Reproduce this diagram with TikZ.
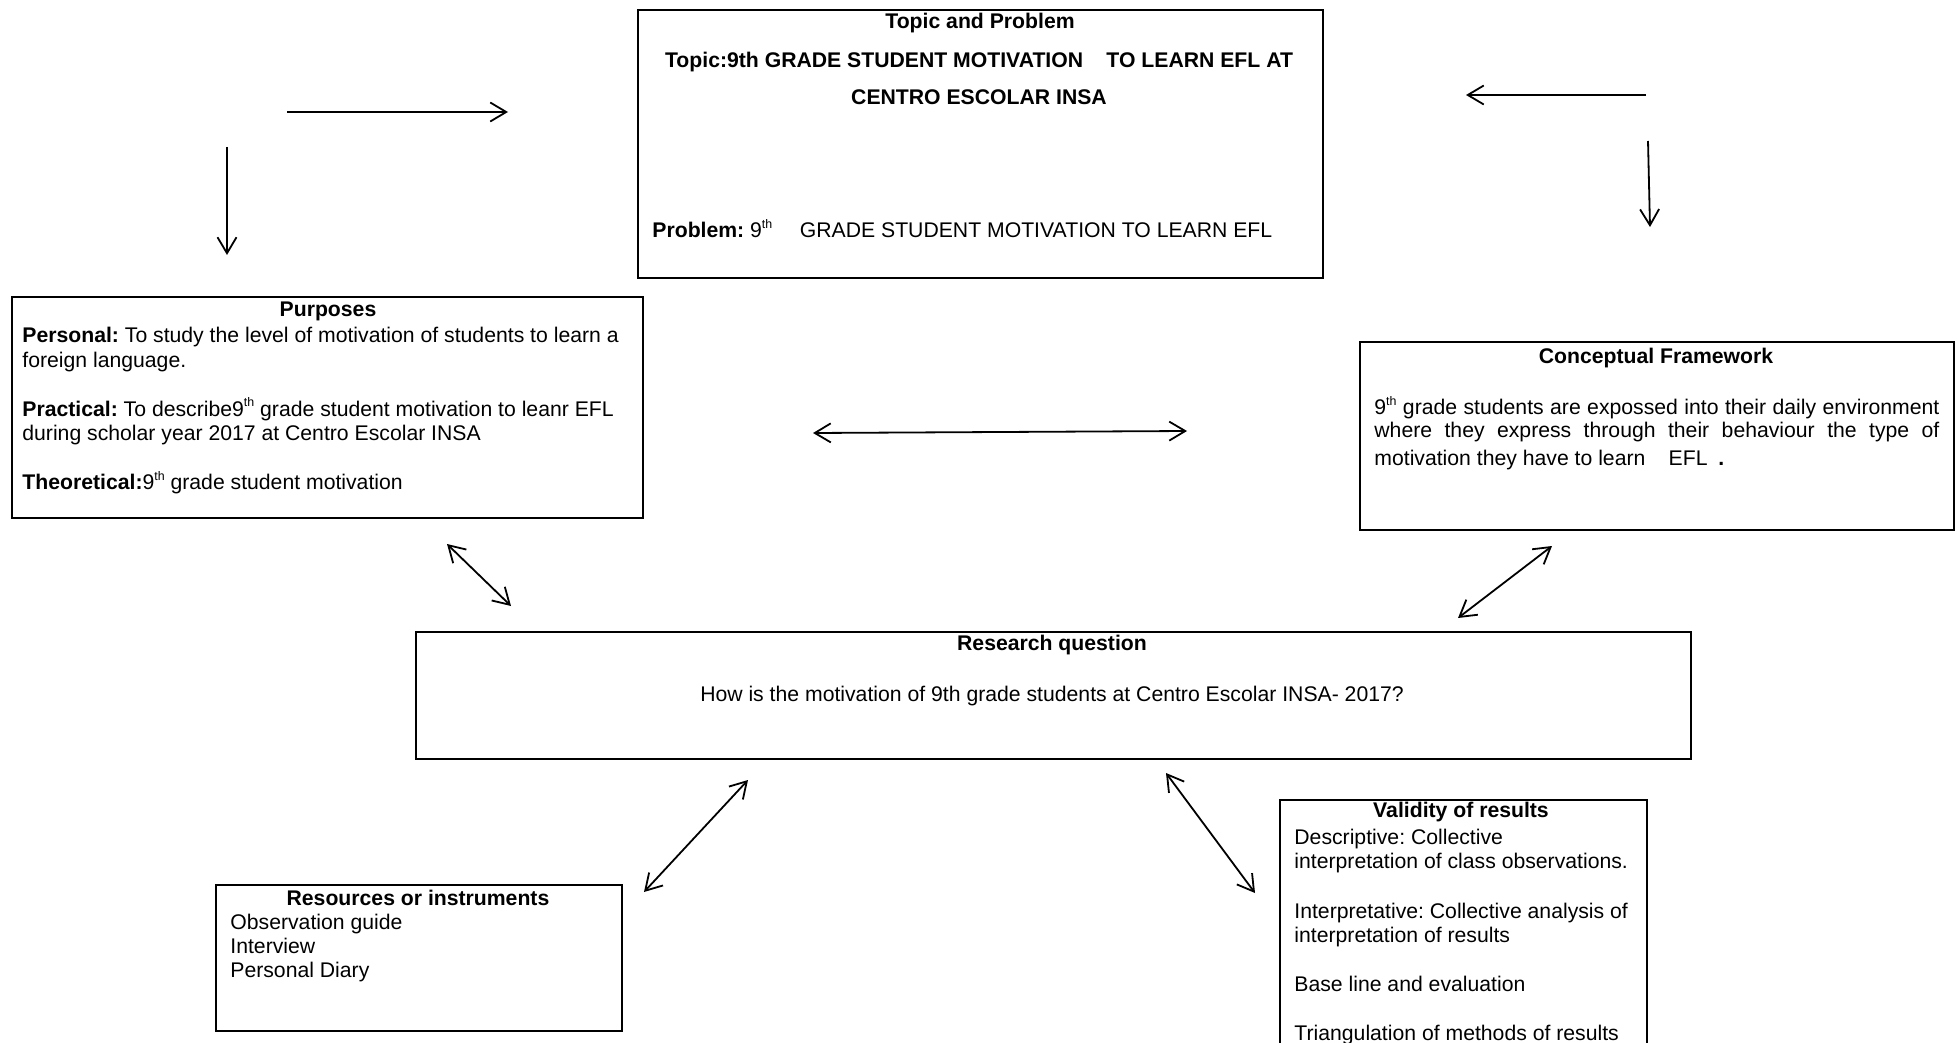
\documentclass[tikz,border=0pt]{standalone}
\usepackage{fontspec}
\setmainfont{Liberation Sans}
\usetikzlibrary{arrows.meta}
\newcommand{\supth}{\raisebox{0.85ex}{\fontsize{6.2}{6.2}\selectfont th}}
\frenchspacing
\begin{document}
\begin{tikzpicture}[x=0.5pt,y=-0.5pt,
  box/.style={draw,line width=1pt,inner sep=0pt,anchor=north west},
  txt/.style={inner sep=0pt,font=\fontsize{10.6}{12.25}\selectfont\frenchspacing},
  ttl/.style={inner sep=0pt,font=\fontsize{10.6}{12.25}\selectfont\bfseries\frenchspacing},
  tip/.tip={Straight Barb[length=8pt,width=9.5pt,line width=0.9pt]},
  arr/.style={line width=0.9pt,-tip},
  darr/.style={line width=0.9pt,tip-tip}]
\useasboundingbox (0,0) rectangle (1958,1043);
\fill[white] (0,0) rectangle (1958,1043);
\clip (0,0) rectangle (1958,1043);

% boxes
\node[box,minimum width=342.5pt,minimum height=134pt] (topic) at (637,9) {};
\node[box,minimum width=315.5pt,minimum height=110.5pt] (purp) at (11,296) {};
\node[box,minimum width=297pt,minimum height=94pt] (cf) at (1359,341) {};
\node[box,minimum width=637.5pt,minimum height=63.5pt] (rq) at (415,631) {};
\node[box,minimum width=203pt,minimum height=73pt] (res) at (215,884) {};
\node[box,minimum width=183.5pt,minimum height=130pt] (val) at (1279,799) {};

% topic texts
\node[ttl,anchor=north] (topict) at (980,13) {Topic and Problem};
\node[ttl,anchor=north] (topicl1) at (979,52) {Topic:9th GRADE STUDENT MOTIVATION\hspace{1.1em}TO LEARN EFL AT};
\node[ttl,anchor=north] (topicl2) at (979,89) {CENTRO ESCOLAR INSA};
\node[txt,anchor=north west] (problem) at (652,219) {\textbf{Problem:} 9\supth\hspace{1.3em}GRADE STUDENT MOTIVATION TO LEARN EFL};

% purposes
\node[ttl,anchor=north] (purpt) at (328,302) {Purposes};
\node[txt,anchor=north west,align=left] (purpb) at (22,327) {\textbf{Personal:} To study the level of motivation of students to learn a\\
foreign language.\\[\baselineskip]
\textbf{Practical:} To describe9\supth{} grade student motivation to leanr EFL\\
during scholar year 2017 at Centro Escolar INSA\\[\baselineskip]
\textbf{Theoretical:}9\supth{} grade student motivation};

% conceptual framework
\node[ttl,anchor=north] (cft) at (1656,348) {Conceptual Framework};
\node[txt,anchor=north west,align=left,font=\fontsize{10.6}{11.2}\selectfont\frenchspacing] (cfb) at (1374,396) {\makebox[282.5pt][s]{9\supth{} grade students are expossed into their daily environment}\\
\makebox[282.5pt][s]{where they express through their behaviour the type of}\\[2.8pt]
motivation they have to learn\hspace{1.1em}EFL\hspace{0.5em}\textbf{.}};

% research question
\node[ttl,anchor=north] (rqt) at (1052,635) {Research question};
\node[txt,anchor=north] (rqb) at (1052,686) {How is the motivation of 9th grade students at Centro Escolar INSA- 2017?};

% resources
\node[ttl,anchor=north] (rest) at (418,890) {Resources or instruments};
\node[txt,anchor=north west,align=left,font=\fontsize{10.6}{12}\selectfont\frenchspacing] (resb) at (230,914) {Observation guide\\Interview\\Personal Diary};

% validity
\node[ttl,anchor=north] (valt) at (1461,802) {Validity of results};
\node[txt,anchor=north west,align=left,font=\fontsize{10.6}{11.9}\selectfont\frenchspacing] (valb) at (1294,829) {Descriptive: Collective\\
interpretation of class observations.\\[13pt]
Interpretative: Collective analysis of\\
interpretation of results\\[13pt]
Base line and evaluation\\[12.2pt]
Triangulation of methods of results};

% arrow end points
\coordinate (a1s) at (287,112); \coordinate (a1e) at (508,112);
\coordinate (a2s) at (227,147); \coordinate (a2e) at (227,255);
\coordinate (a3s) at (1646,95); \coordinate (a3e) at (1466,95);
\coordinate (a4s) at (1648,141); \coordinate (a4e) at (1650,227);
\coordinate (a5s) at (813,433); \coordinate (a5e) at (1187,431);
\coordinate (a6s) at (447,544); \coordinate (a6e) at (511,606);
\coordinate (a7s) at (1552,546); \coordinate (a7e) at (1458,618);
\coordinate (a8s) at (748,780); \coordinate (a8e) at (644,892);
\coordinate (a9s) at (1166,773); \coordinate (a9e) at (1255,893);

\draw[arr] (a1s) -- (a1e);
\draw[arr] (a2s) -- (a2e);
\draw[arr] (a3s) -- (a3e);
\draw[arr] (a4s) -- (a4e);
\draw[darr] (a5s) -- (a5e);
\draw[darr] (a6s) -- (a6e);
\draw[darr] (a7s) -- (a7e);
\draw[darr] (a8s) -- (a8e);
\draw[darr] (a9s) -- (a9e);
\end{tikzpicture}
\end{document}
